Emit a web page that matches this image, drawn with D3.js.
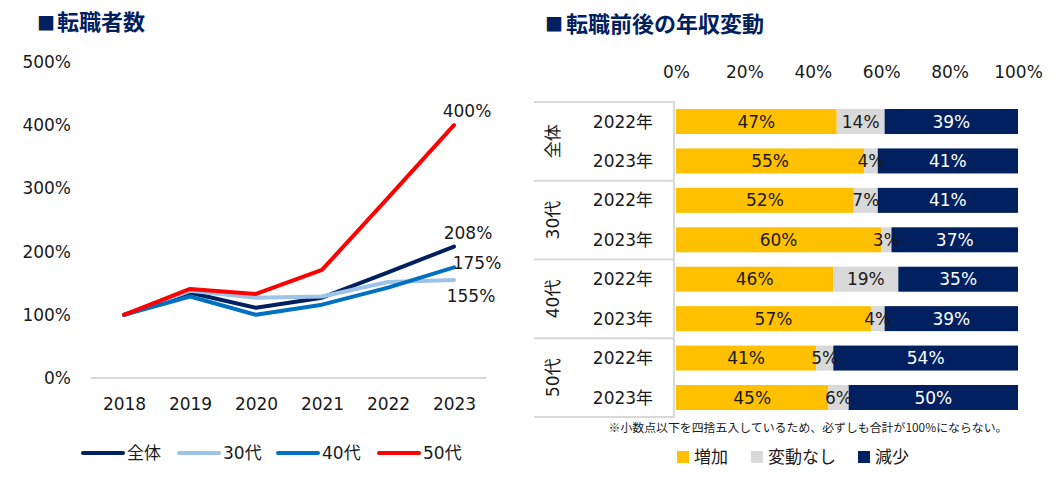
<!DOCTYPE html>
<html>
<head>
<meta charset="utf-8">
<script src="https://cdn.jsdelivr.net/npm/d3@7"></script>
<style>
  body { margin: 0; background: #fff; }
  svg { display: block; font-family: "DejaVu Sans", "Noto Sans CJK JP", sans-serif; }
  .title { font-family: "Noto Sans CJK JP", sans-serif; font-weight: 700; fill: #002060; }
  .lbl { font-family: "DejaVu Sans", "Noto Sans CJK JP", sans-serif; font-size: 17px; fill: #1a1a1a; }
</style>
</head>
<body>
<svg id="chart" width="1057" height="486"></svg>
<script>
// ── Left chart data: 転職者数 (2018 = 100%) ──
const years = ["2018", "2019", "2020", "2021", "2022", "2023"];
const lineNames = ["全体", "30代", "40代", "50代"];
const lineColors = ["#002060", "#9dc3e6", "#0070c0", "#ff0000"];
const allAges = [1.00, 1.35, 1.11, 1.27, 1.67, 2.08];
const age30 = [1.00, 1.38, 1.27, 1.29, 1.52, 1.55];
const age40 = [1.00, 1.29, 1.00, 1.16, 1.43, 1.75];
const age50 = [1.00, 1.41, 1.33, 1.71, 2.85, 4.00];
const yTicks = [0, 1, 2, 3, 4, 5];

// ── Right chart data: 転職前後の年収変動 ──
const barGroups = ["全体", "30代", "40代", "50代"];
const barYears = ["2022年", "2023年"];
const segNames = ["増加", "変動なし", "減少"];
const segColors = ["#ffc000", "#d9d9d9", "#002060"];
const increase = [47, 55, 52, 60, 46, 57, 41, 45];
const noChange = [14, 4, 7, 3, 19, 4, 5, 6];
const decrease = [39, 41, 41, 37, 35, 39, 54, 50];
const xTicks = [0, 0.2, 0.4, 0.6, 0.8, 1];
const note = "※小数点以下を四捨五入しているため、必ずしも合計が100%にならない。";

const svg = d3.select("#chart");

// ════════════ Left: line chart ════════════
svg.append("text").attr("class", "title").attr("x", 37).attr("y", 30)
  .attr("font-size", "18px").text("■");
svg.append("text").attr("class", "title").attr("x", 57).attr("y", 30)
  .attr("font-size", "22px").text("転職者数");

const x = d3.scalePoint().domain(years).range([124, 454]);
const y = d3.scaleLinear().domain([0, 5]).range([378, 62]);

// strip d3's default axis font so the .lbl class applies
function styleAxis(g) {
  g.attr("font-family", null).attr("font-size", null);
  g.select(".domain").remove();
  g.selectAll("text").attr("class", "lbl");
}

// y axis labels
svg.append("g").attr("transform", "translate(73,0)")
  .call(d3.axisLeft(y).tickValues(yTicks).tickSize(0).tickPadding(2)
    .tickFormat(d => d * 100 + "%"))
  .call(styleAxis);

// x axis labels
svg.append("g").attr("transform", `translate(0,${y(0)})`)
  .call(d3.axisBottom(x).tickSize(0).tickPadding(20))
  .call(styleAxis);

// baseline
svg.append("line")
  .attr("x1", 91).attr("x2", 486)
  .attr("y1", y(0)).attr("y2", y(0))
  .attr("stroke", "#d9d9d9").attr("stroke-width", 2);

const series = [allAges, age30, age40, age50];
const line = d3.line().x((d, i) => x(years[i])).y(d => y(d));

series.forEach((vals, k) => {
  svg.append("path")
    .attr("d", line(vals))
    .attr("fill", "none")
    .attr("stroke", lineColors[k])
    .attr("stroke-width", 4)
    .attr("stroke-linecap", "round")
    .attr("stroke-linejoin", "round");
});

// end labels (offsets from last point)
const endOffsets = [[14, -8], [17, 22], [23, 2], [13, -8]];
series.forEach((vals, k) => {
  const last = vals[vals.length - 1];
  svg.append("text").attr("class", "lbl")
    .attr("x", x(years[years.length - 1]) + endOffsets[k][0])
    .attr("y", y(last) + endOffsets[k][1])
    .attr("text-anchor", "middle")
    .text(Math.round(last * 100) + "%");
});

// legend
const legX = [83, 179, 278, 379];
lineNames.forEach((name, k) => {
  svg.append("line")
    .attr("x1", legX[k]).attr("x2", legX[k] + 40)
    .attr("y1", 453).attr("y2", 453)
    .attr("stroke", lineColors[k]).attr("stroke-width", 4)
    .attr("stroke-linecap", "round");
  svg.append("text").attr("class", "lbl")
    .attr("x", legX[k] + 44).attr("y", 459)
    .text(name);
});

// ════════════ Right: 100% stacked bars ════════════
svg.append("text").attr("class", "title").attr("x", 545).attr("y", 31)
  .attr("font-size", "18px").text("■");
svg.append("text").attr("class", "title").attr("x", 566).attr("y", 32)
  .attr("font-size", "22px").text("転職前後の年収変動");

const rows = [];
barGroups.forEach(g => barYears.forEach(yr => rows.push(g + "|" + yr)));
const table = rows.map((key, i) => ({
  key, "増加": increase[i], "変動なし": noChange[i], "減少": decrease[i]
}));

const xb = d3.scaleLinear().domain([0, 1]).range([676, 1018]);
const yb = d3.scaleBand().domain(rows).range([102, 417])
  .paddingInner(0.366).paddingOuter(0.178);

const stacked = d3.stack().keys(segNames).offset(d3.stackOffsetExpand)(table);

// top axis
svg.append("g").attr("transform", "translate(0,80)")
  .call(d3.axisTop(xb).tickValues(xTicks).tickSize(0).tickPadding(2)
    .tickFormat(d3.format(".0%")))
  .call(styleAxis);

stacked.forEach((layer, s) => {
  svg.append("g").selectAll("rect")
    .data(layer).join("rect")
    .attr("x", d => xb(d[0]))
    .attr("y", d => yb(d.data.key))
    .attr("width", d => xb(d[1]) - xb(d[0]))
    .attr("height", yb.bandwidth())
    .attr("fill", segColors[s]);
});

stacked.forEach((layer, s) => {
  svg.append("g").selectAll("text")
    .data(layer).join("text")
    .attr("class", "lbl")
    .attr("x", d => (xb(d[0]) + xb(d[1])) / 2)
    .attr("y", d => yb(d.data.key) + yb.bandwidth() / 2)
    .attr("dy", "0.36em")
    .attr("text-anchor", "middle")
    .style("fill", s === 2 ? "#ffffff" : "#1a1a1a")
    .text(d => d.data[layer.key] + "%");
});

// table-like row header frame
const frame = svg.append("g").attr("stroke", "#d9d9d9").attr("stroke-width", 2);
frame.append("line").attr("x1", 674).attr("x2", 674).attr("y1", 101).attr("y2", 418);
const groupEdges = barGroups.map(g => yb(g + "|" + barYears[0]) - yb.step() * yb.paddingInner() / 2);
groupEdges[0] = 102;
groupEdges.push(417);
groupEdges.forEach(e => {
  frame.append("line").attr("x1", 534).attr("x2", 674).attr("y1", e).attr("y2", e);
});

// year labels
rows.forEach(key => {
  svg.append("text").attr("class", "lbl")
    .attr("x", 623).attr("y", yb(key) + yb.bandwidth() / 2)
    .attr("dy", "0.36em").attr("text-anchor", "middle")
    .text(key.split("|")[1]);
});

// group labels (rotated)
barGroups.forEach((g, i) => {
  const cy = (groupEdges[i] + groupEdges[i + 1]) / 2;
  svg.append("text").attr("class", "lbl")
    .attr("transform", `translate(553,${cy}) rotate(-90)`)
    .attr("dy", "0.36em").attr("text-anchor", "middle")
    .text(g);
});

// footnote
svg.append("text")
  .attr("x", 808).attr("y", 432)
  .attr("text-anchor", "middle")
  .attr("font-family", "Noto Sans CJK JP, sans-serif")
  .attr("font-size", "11.9px").attr("fill", "#1a1a1a")
  .text(note);

// legend
const legBX = [677, 751, 858];
segNames.forEach((name, s) => {
  svg.append("rect")
    .attr("x", legBX[s]).attr("y", 451)
    .attr("width", 12).attr("height", 12)
    .attr("fill", segColors[s]);
  svg.append("text").attr("class", "lbl")
    .attr("x", legBX[s] + 17).attr("y", 463)
    .text(name);
});
</script>
</body>
</html>
